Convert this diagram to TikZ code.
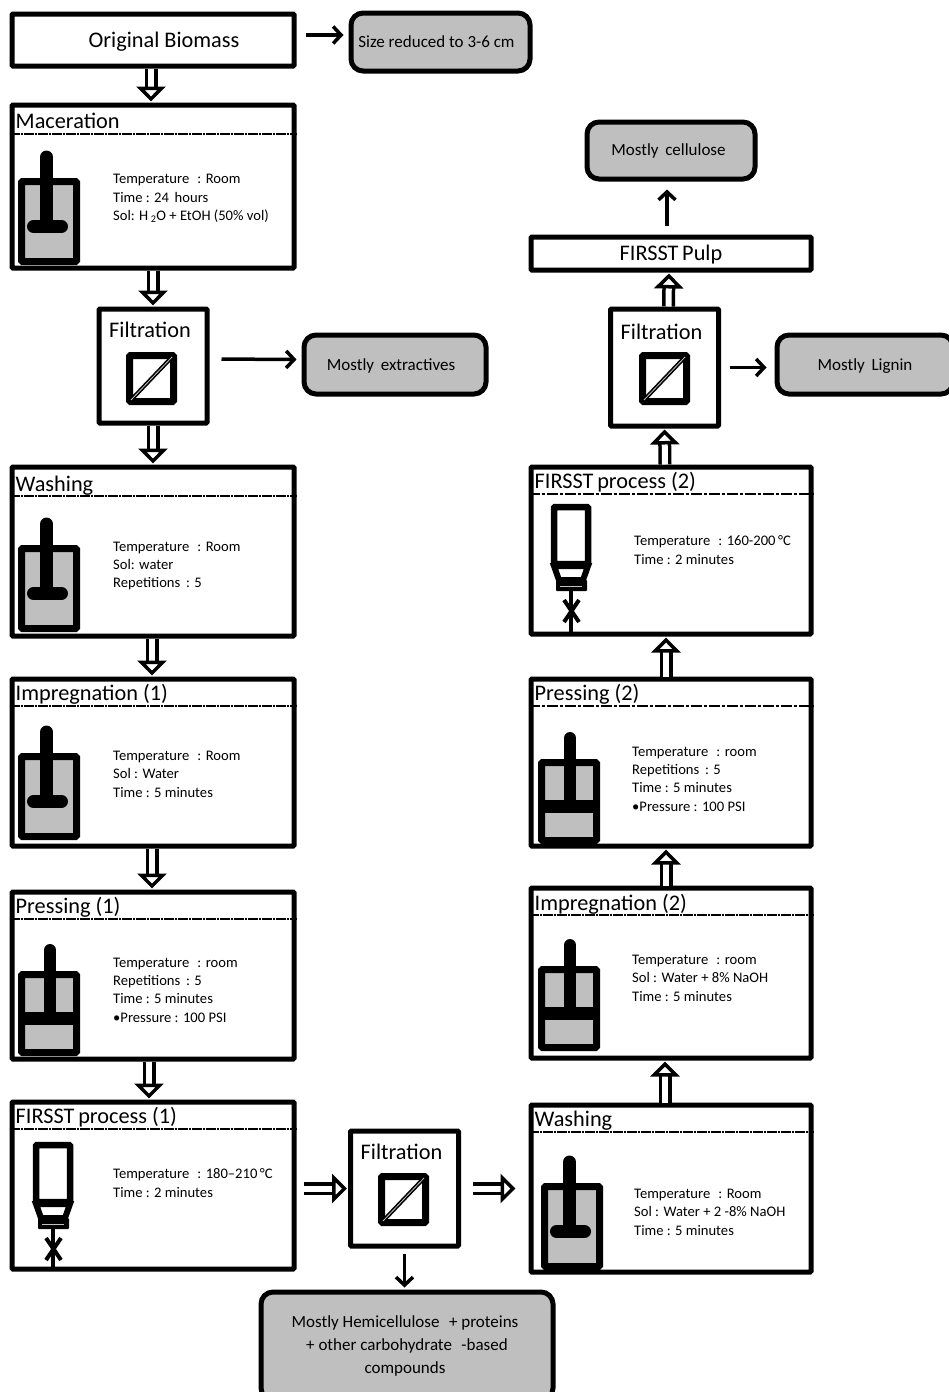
\documentclass[tikz,border=0pt]{standalone}
\usepackage{fontspec}
\setmainfont{Carlito}
\usepackage{tikz}
\usetikzlibrary{arrows.meta,positioning,calc}
\usepackage{xcolor}
\definecolor{fillgrey}{HTML}{BFBFBF}

\tikzset{
  vesselline/.style={line width=7pt, rounded corners=1pt, fill=fillgrey},
  stemline/.style={line width=13pt, line cap=round},
  stirred/.pic={
    \draw[vesselline] (3.5,3.5) rectangle (58.5,83.5);
    \draw[stemline] (28.5,-21) -- (28.5,45);
    \draw[stemline] (15.5,48.5) -- (43.5,48.5);
  },
  presser/.pic={
    \draw[vesselline] (3.5,3.5) rectangle (58.5,81.5);
    \fill (3,41) rectangle (59,54);
    \draw[stemline, line width=12pt] (32,-21) -- (32,45);
  },
  reactor/.pic={
    \draw[line width=6.5pt, rounded corners=1pt, fill=white] (3,3) rectangle (37,60);
    \draw[line width=6pt, fill=white] (3,62) -- (8,76) -- (32,76) -- (37,62) -- cycle;
    \fill[rounded corners=1pt] (5,76) rectangle (36,87);
    \draw[fillgrey, line width=.8pt] (9,82) -- (31,82);
    \draw[line width=4pt] (20,87) -- (20,128);
    \draw[line width=4pt] (13,96) -- (28,118);
    \draw[line width=4pt] (28,96) -- (13,118);
  },
  filtersym/.pic={
    \draw[line width=7pt, rounded corners=1pt, fill=white] (3.5,3.5) rectangle (47.5,49.5);
    \draw[line width=1.6pt, double=fillgrey, double distance=.8pt] (5,48) -- (46,5);
  }
}

\begin{document}
\begin{tikzpicture}[
  x=1pt, y=-1pt,
  procbox/.style={rectangle, draw, fill=white, line width=5pt, rounded corners=1pt, inner sep=0pt},
  stagebox/.style={procbox, minimum width=282pt},
  rightbox/.style={procbox, minimum width=280pt},
  filterbox/.style={procbox, minimum width=108pt},
  resultbox/.style={rectangle, draw, fill=fillgrey, line width=5pt, rounded corners=12pt, inner sep=0pt, font=\fontsize{17}{23}\selectfont, align=center},
  headtext/.style={inner sep=0pt, font=\fontsize{22.3}{26}\selectfont},
  infotext/.style={inner sep=0pt, anchor=west, align=left, font=\fontsize{14.6}{18.4}\selectfont},
  divider/.style={line width=2pt, dash pattern=on 2.5pt off .3pt},
  dashdivider/.style={line width=2pt, dash pattern=on 11pt off 2pt on 3pt off 2pt},
  hollow/.style={double, line width=3.5pt, double distance=6pt, shorten >=1pt,
    -{Triangle[open, fill=white, line width=3.5pt, length=15pt, width=29pt]}},
  arrow/.style={line width=3.5pt, -{Straight Barb[length=8pt, width=17pt, line width=3.5pt]}}
]
\useasboundingbox (0,0) rectangle (949,1392);

% left column
\node[stagebox, minimum height=52pt] (Biomass) at (153,40) {\hspace{22pt}\smash{\raisebox{-7pt}{\fontsize{22.3}{26}\selectfont Original Biomass}}};
\node[stagebox, minimum height=163pt] (Mac) at (153,186.5) {};
\node[filterbox, minimum height=114pt] (FiltA) at (153,366) {};
\node[stagebox, minimum height=169pt] (WashA) at (153,551.5) {};
\node[stagebox, minimum height=167pt] (ImpA) at (153,762.5) {};
\node[stagebox, minimum height=167pt] (PressA) at (153,975.5) {};
\node[stagebox, minimum height=167pt] (FirsstA) at (153,1185.5) {};

% bottom filter
\node[filterbox, minimum height=115pt] (FiltB) at (404.5,1188.5) {};

% right column
\node[rightbox, minimum height=167pt] (WashB) at (671,1188.5) {};
\node[rightbox, minimum height=170pt] (ImpB) at (671,973) {};
\node[rightbox, minimum height=167pt] (PressB) at (671,762.5) {};
\node[rightbox, minimum height=167pt] (FirsstB) at (671,550.5) {};
\node[filterbox, minimum height=117pt] (FiltC) at (664.5,367.5) {};
\node[rightbox, minimum height=33pt] (Pulp) at (671,253.5) {\smash{\raisebox{-7pt}{\fontsize{22.3}{26}\selectfont FIRSST\,Pulp}}};

% results
\node[resultbox, minimum width=179pt, minimum height=58pt] (Size) at (440.5,42) {Size reduced to 3-6 cm\hspace*{8pt}};
\node[resultbox, minimum width=182pt, minimum height=59pt] (Extract) at (395,364.5) {\smash{\raisebox{-5.5pt}{Mostly\, extractives}}\hspace*{8pt}};
\node[resultbox, minimum width=168pt, minimum height=57pt] (Cellulose) at (671,150.5) {Mostly\, cellulose\hspace*{5pt}};
\node[resultbox, minimum width=176pt, minimum height=59pt] (Lignin) at (865,364.5) {\smash{\raisebox{-6pt}{Mostly\, Lignin}}};
\node[resultbox, minimum width=292pt, minimum height=108pt] (Hemi) at (407,1346) {Mostly Hemicellulose\,\, + proteins\hspace*{4pt}\\+ other carbohydrate\,\, -based\hspace*{4pt}\\compounds\hspace*{4pt}};

% headings
\node[headtext, below right=10pt and 6pt of Mac.north west] (MacHead) {Maceration};
\node[headtext, below right=11pt and 6pt of WashA.north west] (WashAHead) {Washing};
\node[headtext, below right=7pt and 6pt of ImpA.north west] (ImpAHead) {Impregnation (1)};
\node[headtext, below right=7pt and 6pt of PressA.north west] (PressAHead) {Pressing (1)};
\node[headtext, below right=7pt and 6pt of FirsstA.north west] (FirsstAHead) {FIRSST\,process (1)};
\node[headtext, below right=8pt and 6pt of WashB.north west] (WashBHead) {Washing};
\node[headtext, below right=8pt and 6pt of ImpB.north west] (ImpBHead) {Impregnation (2)};
\node[headtext, below right=7pt and 6pt of PressB.north west] (PressBHead) {Pressing (2)};
\node[headtext, below right=7pt and 6pt of FirsstB.north west] (FirsstBHead) {FIRSST\,process (2)};
\node[headtext, below=15pt of FiltA.north, xshift=-3pt] (FiltAHead) {Filtration};
\node[headtext, below=15pt of FiltB.north, xshift=-3pt] (FiltBHead) {Filtration};
\node[headtext, below=17pt of FiltC.north, xshift=-3pt] (FiltCHead) {Filtration};

% dividers
\draw[divider] ([yshift=-31pt]Mac.north west) -- ([yshift=-31pt]Mac.north east);
\draw[divider] ([yshift=-31pt]WashA.north west) -- ([yshift=-31pt]WashA.north east);
\draw[divider] ([yshift=-29pt]ImpA.north west) -- ([yshift=-29pt]ImpA.north east);
\draw[divider] ([yshift=-29pt]PressA.north west) -- ([yshift=-29pt]PressA.north east);
\draw[divider] ([yshift=-29pt]FirsstA.north west) -- ([yshift=-29pt]FirsstA.north east);
\draw[divider] ([yshift=-29pt]WashB.north west) -- ([yshift=-29pt]WashB.north east);
\draw[divider] ([yshift=-29pt]ImpB.north west) -- ([yshift=-29pt]ImpB.north east);
\draw[dashdivider] ([yshift=-29pt]PressB.north west) -- ([yshift=-29pt]PressB.north east);
\draw[dashdivider] ([yshift=-29pt]FirsstB.north west) -- ([yshift=-29pt]FirsstB.north east);

% conditions
\node[infotext] (MacInfo) at (113,198.5) {Temperature\,\, : Room\\Time : 24\, hours\\Sol: H\,\textsubscript{2}O + EtOH (50\% vol)};
\node[infotext] (WashAInfo) at (113,566) {Temperature\,\, : Room\\Sol: water\\Repetitions\, : 5};
\node[infotext] (ImpAInfo) at (113,774) {Temperature\,\, : Room\\Sol : Water\\Time : 5 minutes};
\node[infotext] (PressAInfo) at (113,990) {Temperature\,\, : room\\Repetitions\, : 5\\Time : 5 minutes\\•Pressure : 100 PSI};
\node[infotext] (FirsstAInfo) at (113,1183) {Temperature\,\, : 180--210\,°C\\Time : 2 minutes};
\node[infotext] (WashBInfo) at (634,1212) {Temperature\,\, : Room\\Sol : Water + 2 -8\% NaOH\\Time : 5 minutes};
\node[infotext] (ImpBInfo) at (632,978) {Temperature\,\, : room\\Sol : Water + 8\% NaOH\\Time : 5 minutes};
\node[infotext] (PressBInfo) at (632,779) {Temperature\,\, : room\\Repetitions\, : 5\\Time : 5 minutes\\•Pressure : 100 PSI};
\node[infotext] (FirsstBInfo) at (634,550) {Temperature\,\, : 160-200\,°C\\Time : 2 minutes};

% equipment
\pic (MacVessel) at (18,178) {stirred};
\pic (WashAVessel) at (18,545) {stirred};
\pic (ImpAVessel) at (18,753) {stirred};
\pic (WashBVessel) at (541,1183) {stirred};
\pic (PressAVessel) at (18,971) {presser};
\pic (PressBVessel) at (538,759) {presser};
\pic (ImpBVessel) at (538,966) {presser};
\pic (FirsstAVessel) at (33,1142) {reactor};
\pic (FirsstBVessel) at (551,504) {reactor};
\pic (FiltASym) at (126,352) {filtersym};
\pic (FiltBSym) at (378,1173) {filtersym};
\pic (FiltCSym) at (639,352) {filtersym};

% hollow arrows
\draw[hollow] ([xshift=-2pt]Biomass.south) -- ([xshift=-2pt]Mac.north);
\draw[hollow] (Mac.south) -- (FiltA.north);
\draw[hollow] (FiltA.south) -- (WashA.north);
\draw[hollow] ([xshift=-1pt]WashA.south) -- ([xshift=-1pt]ImpA.north);
\draw[hollow] ([xshift=-1pt]ImpA.south) -- ([xshift=-1pt]PressA.north);
\draw[hollow] ([xshift=-4pt]PressA.south) -- ([xshift=-4pt]FirsstA.north);
\draw[hollow, shorten <=7pt] (FirsstA.east |- FiltB.west) -- (FiltB.west);
\draw[hollow, shorten <=12pt, shorten >=13pt] (FiltB.east) -- (FiltB.east -| WashB.west);
\draw[hollow] ([xshift=-6pt]WashB.north) -- ([xshift=-6pt]ImpB.south);
\draw[hollow] ([xshift=-5pt]ImpB.north) -- ([xshift=-5pt]PressB.south);
\draw[hollow] ([xshift=-5pt]PressB.north) -- ([xshift=-5pt]FirsstB.south);
\draw[hollow] ([xshift=-6pt]FirsstB.north) -- (FiltC.south);
\draw[hollow] ([xshift=4pt]FiltC.north) -- ([xshift=-2pt]Pulp.south);

% plain arrows
\draw[arrow, shorten <=9pt, shorten >=5pt] ([yshift=5pt]Biomass.east) -- ([yshift=7pt]Size.west);
\draw[arrow, shorten <=12pt, shorten >=5pt] ([yshift=7pt]FiltA.east) -- ([yshift=5pt]Extract.west);
\draw[arrow, shorten <=9pt, shorten >=8pt] (FiltC.east) -- (FiltC.east -| Lignin.west);
\draw[arrow, shorten <=5pt, shorten >=2pt] (FiltB.south) -- (FiltB.south |- Hemi.north);
\draw[arrow, shorten <=9pt, shorten >=8pt] ([xshift=-4pt]Pulp.north) -- ([xshift=-4pt]Cellulose.south);

\end{tikzpicture}
\end{document}
